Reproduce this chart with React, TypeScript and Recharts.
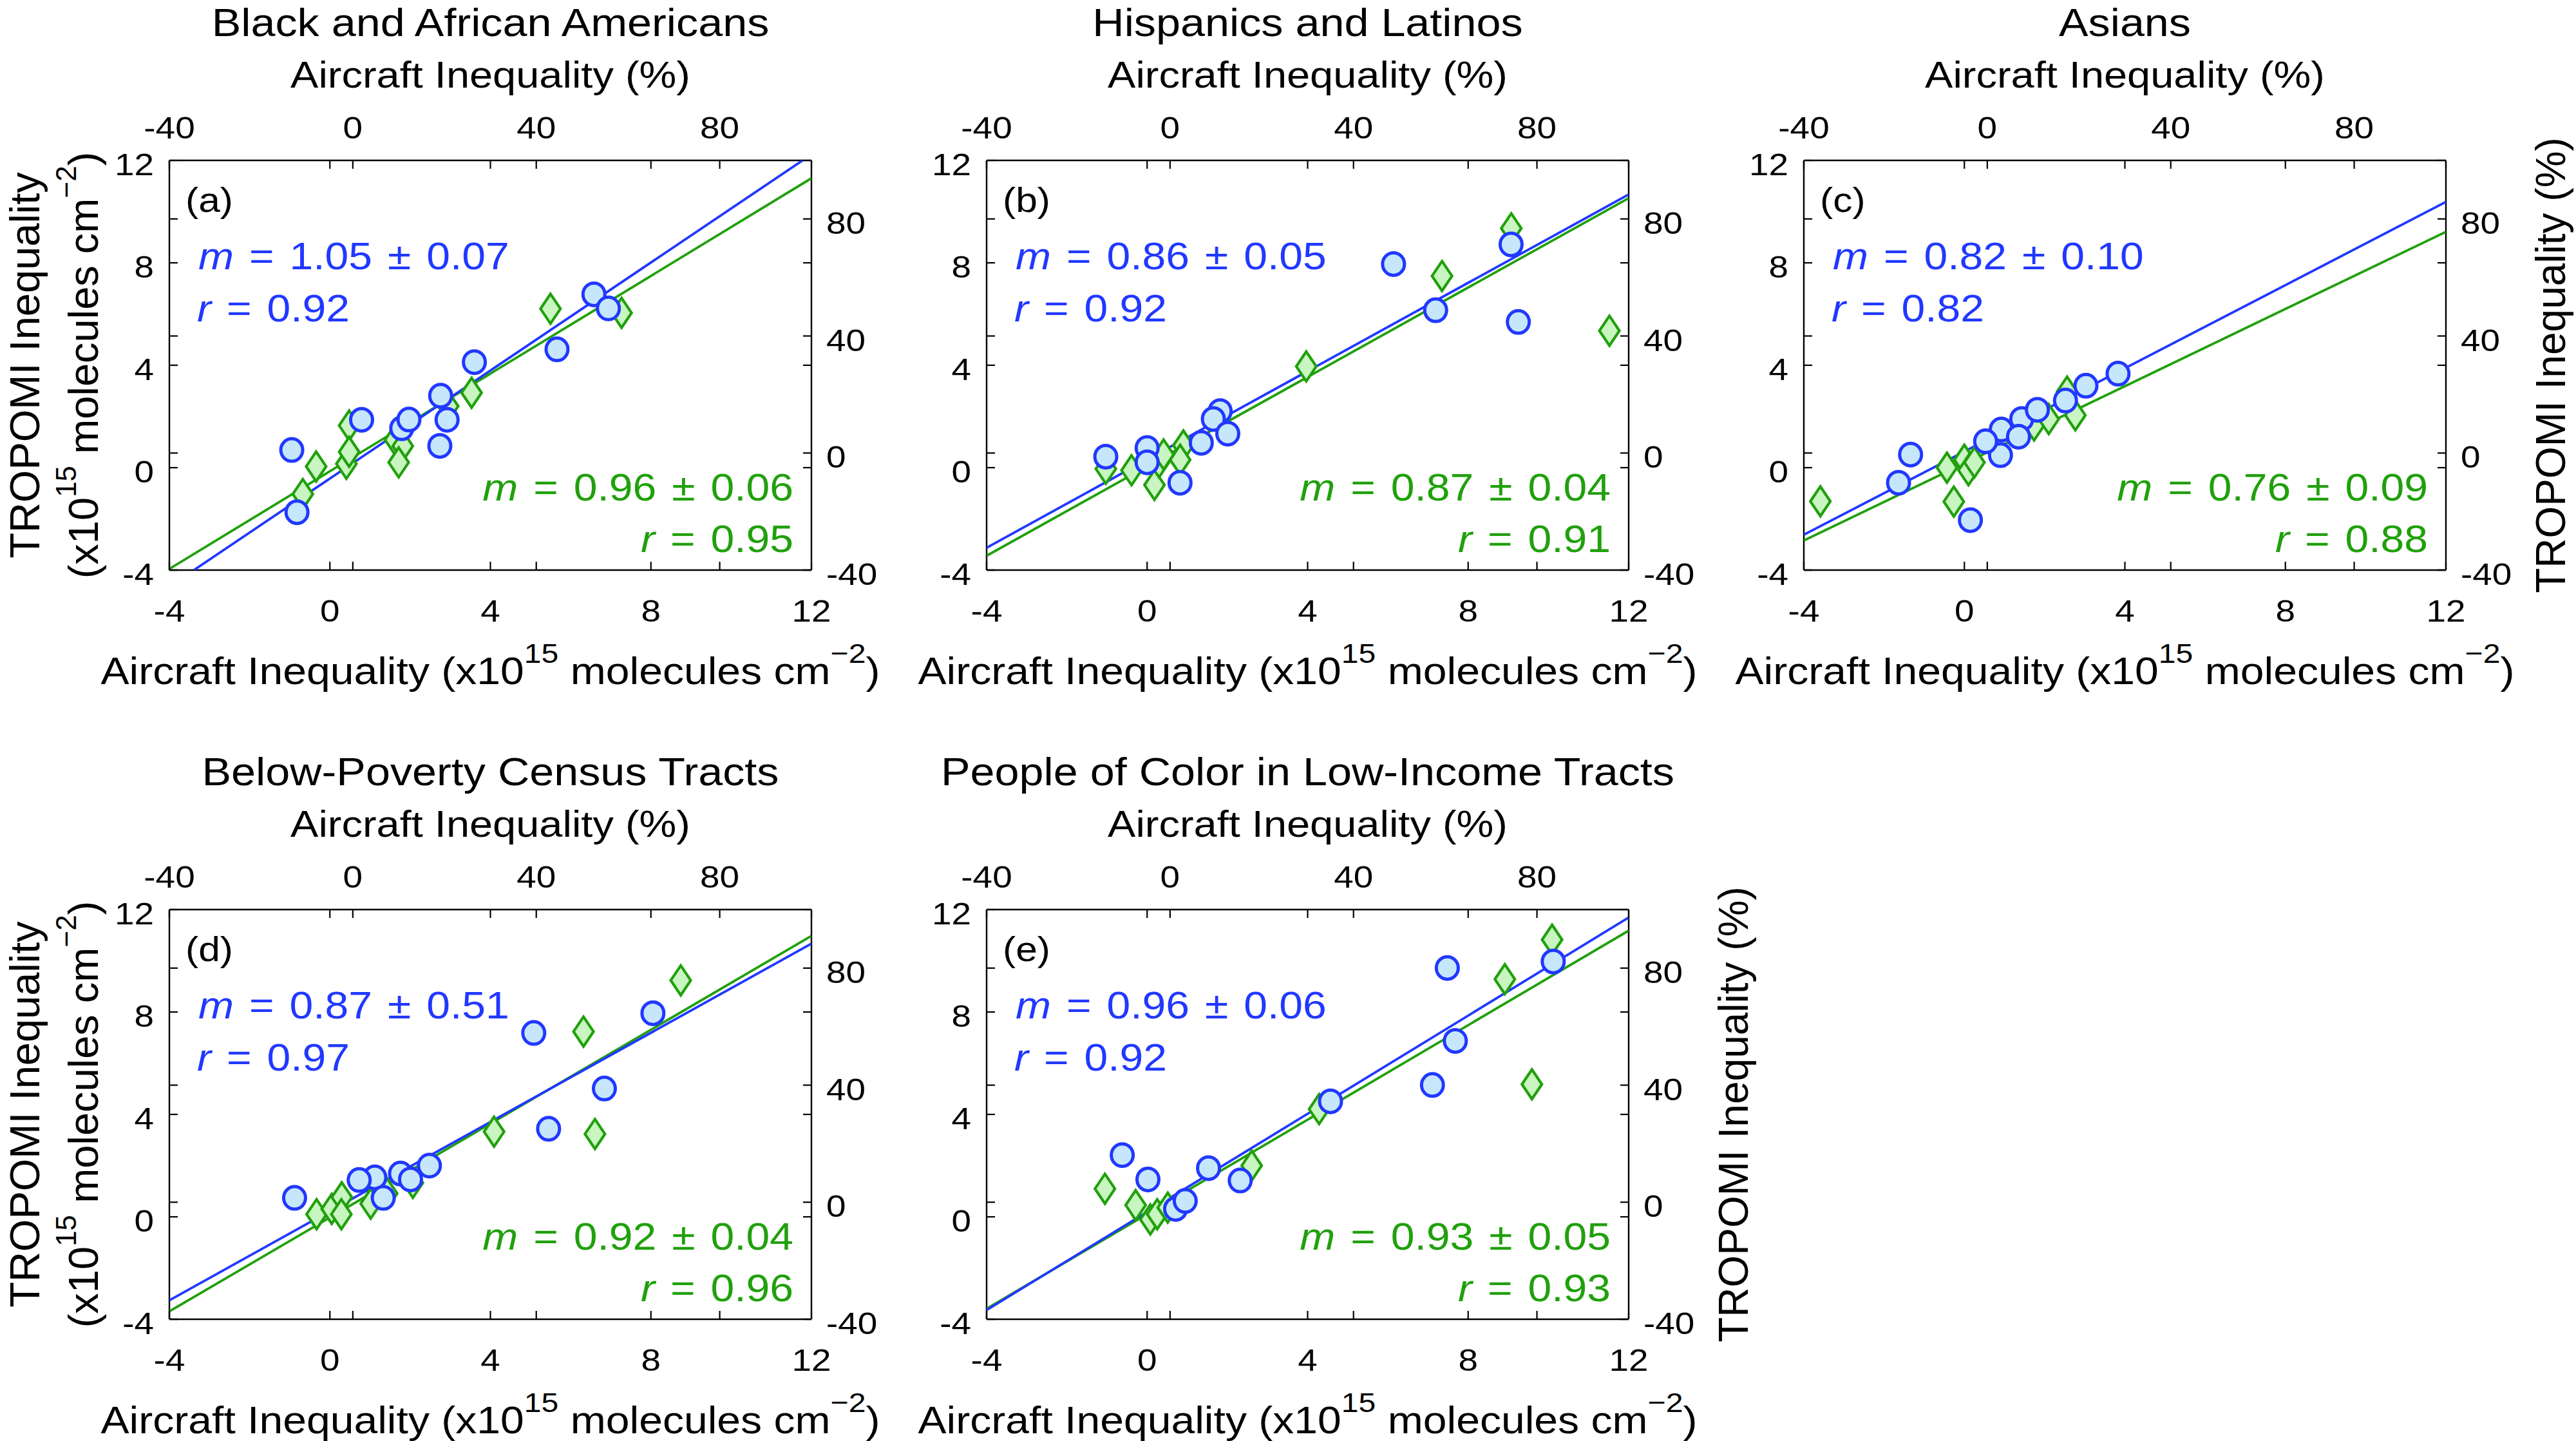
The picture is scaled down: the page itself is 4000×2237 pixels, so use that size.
import React from 'react';
import { ComposedChart, Scatter, XAxis, YAxis } from 'recharts';

// ---------------- data ----------------
const panelLetters = ['(a)', '(b)', '(c)', '(d)', '(e)'];
const panelTitles = [
  'Black and African Americans',
  'Hispanics and Latinos',
  'Asians',
  'Below-Poverty Census Tracts',
  'People of Color in Low-Income Tracts',
];

const absTicks = [-4, 0, 4, 8, 12];
const pctTicks = [-40, 0, 40, 80];
const absDomain: [number, number] = [-4, 12];
const pctDomain: [number, number] = [-40, 100];

const blueSlope = ['1.05 ± 0.07', '0.86 ± 0.05', '0.82 ± 0.10', '0.87 ± 0.51', '0.96 ± 0.06'];
const blueR = ['0.92', '0.92', '0.82', '0.97', '0.92'];
const greenSlope = ['0.96 ± 0.06', '0.87 ± 0.04', '0.76 ± 0.09', '0.92 ± 0.04', '0.93 ± 0.05'];
const greenR = ['0.95', '0.91', '0.88', '0.96', '0.93'];

// absolute inequality (x10^15 molecules cm^-2): circles
const circlesA = [
  { x: -0.95, y: 0.69 }, { x: -0.82, y: -1.74 }, { x: 0.79, y: 1.87 }, { x: 1.79, y: 1.54 },
  { x: 1.97, y: 1.88 }, { x: 2.76, y: 2.81 }, { x: 2.92, y: 1.87 }, { x: 2.74, y: 0.85 },
  { x: 3.6, y: 4.12 }, { x: 5.66, y: 4.62 }, { x: 6.58, y: 6.77 }, { x: 6.94, y: 6.22 },
];
const circlesB = [
  { x: -1.03, y: 0.43 }, { x: 0.0, y: 0.77 }, { x: 0.0, y: 0.21 }, { x: 0.82, y: -0.59 },
  { x: 1.35, y: 0.97 }, { x: 1.82, y: 2.21 }, { x: 1.65, y: 1.9 }, { x: 2.01, y: 1.33 },
  { x: 6.14, y: 7.95 }, { x: 7.19, y: 6.15 }, { x: 9.07, y: 8.72 }, { x: 9.25, y: 5.69 },
];
const circlesC = [
  { x: -1.64, y: -0.59 }, { x: -1.34, y: 0.51 }, { x: 0.15, y: -2.05 }, { x: 0.9, y: 0.49 },
  { x: 0.92, y: 1.49 }, { x: 1.43, y: 1.9 }, { x: 1.82, y: 2.26 }, { x: 1.35, y: 1.21 },
  { x: 0.53, y: 1.03 }, { x: 2.52, y: 2.62 }, { x: 3.03, y: 3.2 }, { x: 3.83, y: 3.67 },
];
const circlesD = [
  { x: -0.88, y: 0.74 }, { x: 1.12, y: 1.54 }, { x: 0.73, y: 1.44 }, { x: 1.33, y: 0.74 },
  { x: 1.76, y: 1.69 }, { x: 2.01, y: 1.46 }, { x: 2.48, y: 2.0 }, { x: 5.08, y: 7.18 },
  { x: 5.45, y: 3.44 }, { x: 6.84, y: 5.01 }, { x: 8.05, y: 7.95 },
];
const circlesE = [
  { x: -0.62, y: 2.41 }, { x: 0.02, y: 1.46 }, { x: 0.71, y: 0.31 }, { x: 0.95, y: 0.62 },
  { x: 1.53, y: 1.9 }, { x: 2.32, y: 1.42 }, { x: 4.57, y: 4.51 }, { x: 7.11, y: 5.15 },
  { x: 7.48, y: 9.72 }, { x: 7.68, y: 6.87 }, { x: 10.12, y: 9.97 },
];

// relative inequality (%): diamonds
const diamondsA = [
  { x: -10.9, y: -14.0 }, { x: -8.0, y: -4.6 }, { x: -1.4, y: -3.7 }, { x: -0.8, y: 9.4 },
  { x: -0.8, y: 0.4 }, { x: 9.2, y: 4.5 }, { x: 10.9, y: 2.4 }, { x: 10.0, y: -3.2 },
  { x: 25.9, y: 20.6 }, { x: 43.1, y: 49.3 }, { x: 58.6, y: 47.9 }, { x: 20.8, y: 16.0 },
];
const diamondsB = [
  { x: -14.0, y: -5.4 }, { x: -8.4, y: -5.9 }, { x: -3.4, y: -10.9 }, { x: -2.4, y: -3.2 },
  { x: 2.9, y: 2.6 }, { x: 2.2, y: -2.3 }, { x: -1.4, y: -0.5 }, { x: 29.7, y: 29.6 },
  { x: 59.3, y: 60.5 }, { x: 74.4, y: 76.8 }, { x: 95.8, y: 41.8 },
];
const diamondsC = [
  { x: -36.4, y: -16.5 }, { x: -8.8, y: -5.0 }, { x: -7.3, y: -16.6 }, { x: -5.0, y: -2.3 },
  { x: -4.1, y: -5.9 }, { x: -2.8, y: -3.2 }, { x: 10.2, y: 9.4 }, { x: 13.4, y: 11.6 },
  { x: 17.4, y: 21.0 }, { x: 19.2, y: 12.9 },
];
const diamondsD = [
  { x: -7.9, y: -4.1 }, { x: -4.6, y: -2.3 }, { x: -2.4, y: 1.7 }, { x: -2.5, y: -4.1 },
  { x: 3.9, y: -0.5 }, { x: 7.5, y: 3.0 }, { x: 13.1, y: 6.6 }, { x: 30.8, y: 24.1 },
  { x: 50.3, y: 58.3 }, { x: 52.8, y: 23.3 }, { x: 71.5, y: 75.8 },
];
const diamondsE = [
  { x: -14.2, y: 4.6 }, { x: -7.5, y: -1.0 }, { x: -4.3, y: -5.9 }, { x: -2.8, y: -4.1 },
  { x: -0.5, y: -1.85 }, { x: 17.8, y: 12.5 }, { x: 32.5, y: 31.8 }, { x: 73.0, y: 76.2 },
  { x: 78.9, y: 40.3 }, { x: 83.3, y: 89.7 },
];

// fitted lines, read where they meet the frame
const blueLineA = [{ x: -3.39, y: -4 }, { x: 11.78, y: 12 }];
const blueLineB = [{ x: -4, y: -3.13 }, { x: 12, y: 10.67 }];
const blueLineC = [{ x: -4, y: -2.62 }, { x: 12, y: 10.38 }];
const blueLineD = [{ x: -4, y: -3.26 }, { x: 12, y: 10.67 }];
const blueLineE = [{ x: -4, y: -3.64 }, { x: 12, y: 11.69 }];
const greenLineA = [{ x: -40, y: -39.6 }, { x: 100, y: 93.9 }];
const greenLineB = [{ x: -40, y: -35.1 }, { x: 100, y: 87.1 }];
const greenLineC = [{ x: -40, y: -29.9 }, { x: 100, y: 75.6 }];
const greenLineD = [{ x: -40, y: -37.3 }, { x: 100, y: 91.0 }];
const greenLineE = [{ x: -40, y: -36.4 }, { x: 100, y: 92.8 }];

const circles = [circlesA, circlesB, circlesC, circlesD, circlesE];
const diamonds = [diamondsA, diamondsB, diamondsC, diamondsD, diamondsE];
const blueLines = [blueLineA, blueLineB, blueLineC, blueLineD, blueLineE];
const greenLines = [greenLineA, greenLineB, greenLineC, greenLineD, greenLineE];

// ---------------- layout / style ----------------
const FONT = '"Liberation Sans", Arial, Helvetica, sans-serif';
const SX = 1.12;
const W = 997;
const H = 636;
const ML = 200;
const MR = 200;
const MT = 160;
const MB = 160;
const TL = 13;
const BLUE = '#2138ff';
const BLUE_FILL = '#c6e6fb';
const GREEN = '#20a00c';
const GREEN_FILL = '#c8f5c0';
const TICK_FS = 49;

const layout = [
  { L: 263, T: 249 },
  { L: 1532, T: 249 },
  { L: 2801, T: 249 },
  { L: 263, T: 1412 },
  { L: 1532, T: 1412 },
];
const showLeftLabel = [true, false, false, true, false];
const showRightLabel = [false, false, true, false, true];

const tickText = (x: number, y: number, anchor: string, v: any) => (
  <text
    transform={`translate(${x},${y}) scale(${SX},1)`}
    textAnchor={anchor as any}
    fontSize={TICK_FS}
    fontFamily={FONT}
    fill="#000"
  >
    {String(v)}
  </text>
);

const BottomTick = (p: any) => {
  const x = p.x;
  const yb = MT + H;
  return (
    <g>
      <line x1={x} y1={yb} x2={x} y2={yb - TL} stroke="#000" strokeWidth={2.2} />
      <line x1={x} y1={MT} x2={x} y2={MT + TL} stroke="#000" strokeWidth={2.2} />
      {tickText(x, yb + 80, 'middle', p.payload.value)}
    </g>
  );
};
const TopTick = (p: any) => {
  const x = p.x;
  const yb = MT + H;
  return (
    <g>
      <line x1={x} y1={MT} x2={x} y2={MT + TL} stroke="#000" strokeWidth={2.2} />
      <line x1={x} y1={yb} x2={x} y2={yb - TL} stroke="#000" strokeWidth={2.2} />
      {tickText(x, MT - 34, 'middle', p.payload.value)}
    </g>
  );
};
const LeftTick = (p: any) => {
  const y = p.y;
  return (
    <g>
      <line x1={ML} y1={y} x2={ML + TL} y2={y} stroke="#000" strokeWidth={2.2} />
      <line x1={ML + W} y1={y} x2={ML + W - TL} y2={y} stroke="#000" strokeWidth={2.2} />
      {tickText(ML - 24, y + 23, 'end', p.payload.value)}
    </g>
  );
};
const RightTick = (p: any) => {
  const y = p.y;
  return (
    <g>
      <line x1={ML + W} y1={y} x2={ML + W - TL} y2={y} stroke="#000" strokeWidth={2.2} />
      <line x1={ML} y1={y} x2={ML + TL} y2={y} stroke="#000" strokeWidth={2.2} />
      {tickText(ML + W + 23, y + 23, 'start', p.payload.value)}
    </g>
  );
};

const CircleShape = (p: any) => (
  <ellipse cx={p.cx} cy={p.cy} rx={17} ry={17.5} fill={BLUE_FILL} stroke={BLUE} strokeWidth={5} />
);
const DiamondShape = (p: any) => (
  <path
    d={`M${p.cx},${p.cy - 23} L${p.cx + 15.5},${p.cy} L${p.cx},${p.cy + 23} L${p.cx - 15.5},${p.cy} Z`}
    fill={GREEN_FILL}
    stroke={GREEN}
    strokeWidth={4.2}
  />
);
const NoShape = () => <g />;

const axisLine = { stroke: '#000', strokeWidth: 2.4 };

function Panel({ i }: { i: number }) {
  const { L, T } = layout[i];
  const cw = ML + W + MR;
  const ch = MT + H + MB;
  return (
    <div style={{ position: 'absolute', left: L - ML, top: T - MT, width: cw, height: ch }}>
      <ComposedChart width={cw} height={ch} margin={{ top: 0, right: 0, bottom: 0, left: 0 }}>
        <XAxis
          xAxisId="abs" dataKey="x" type="number" orientation="bottom" domain={absDomain}
          ticks={absTicks} interval={0} allowDataOverflow height={MB} axisLine={axisLine}
          tickLine={false} tickSize={0} tickMargin={0} tick={BottomTick}
        />
        <XAxis
          xAxisId="pct" dataKey="x" type="number" orientation="top" domain={pctDomain}
          ticks={pctTicks} interval={0} allowDataOverflow height={MT} axisLine={axisLine}
          tickLine={false} tickSize={0} tickMargin={0} tick={TopTick}
        />
        <YAxis
          yAxisId="abs" dataKey="y" type="number" orientation="left" domain={absDomain}
          ticks={absTicks} interval={0} allowDataOverflow width={ML} axisLine={axisLine}
          tickLine={false} tickSize={0} tickMargin={0} tick={LeftTick}
        />
        <YAxis
          yAxisId="pct" dataKey="y" type="number" orientation="right" domain={pctDomain}
          ticks={pctTicks} interval={0} allowDataOverflow width={MR} axisLine={axisLine}
          tickLine={false} tickSize={0} tickMargin={0} tick={RightTick}
        />
        <Scatter
          data={greenLines[i]} xAxisId="pct" yAxisId="pct" line={{ stroke: GREEN, strokeWidth: 3.8 }}
          shape={NoShape} isAnimationActive={false}
        />
        <Scatter
          data={blueLines[i]} xAxisId="abs" yAxisId="abs" line={{ stroke: BLUE, strokeWidth: 3.8 }}
          shape={NoShape} isAnimationActive={false}
        />
        <Scatter data={diamonds[i]} xAxisId="pct" yAxisId="pct" shape={DiamondShape} isAnimationActive={false} />
        <Scatter data={circles[i]} xAxisId="abs" yAxisId="abs" shape={CircleShape} isAnimationActive={false} />
      </ComposedChart>
    </div>
  );
}

function Txt({ x, y, size, anchor = 'middle', rot = 0, fill = '#000', ws, children }: any) {
  const tr = rot
    ? `translate(${x},${y}) rotate(${rot})`
    : `translate(${x},${y}) scale(${SX},1)`;
  return (
    <text
      transform={tr}
      fontSize={size}
      textAnchor={anchor}
      fill={fill}
      fontFamily={FONT}
      style={ws ? { wordSpacing: ws } : undefined}
    >
      {children}
    </text>
  );
}

function Overlay() {
  return (
    <svg
      width={4000}
      height={2237}
      style={{ position: 'absolute', left: 0, top: 0, pointerEvents: 'none' }}
    >
      {layout.map(({ L, T }, i) => {
        const cx = L + W / 2;
        const B = T + H;
        const R = L + W;
        return (
          <g key={i}>
            <Txt x={cx} y={T - 193} size={61}>{panelTitles[i]}</Txt>
            <Txt x={cx} y={T - 113} size={58}>Aircraft Inequality (%)</Txt>
            <Txt x={cx} y={B + 177} size={59}>
              Aircraft Inequality (x10
              <tspan fontSize={43} dy={-33}>15</tspan>
              <tspan dy={33}> molecules cm</tspan>
              <tspan fontSize={43} dy={-33}>−2</tspan>
              <tspan dy={33}>)</tspan>
            </Txt>
            <Txt x={L + 25} y={T + 80} size={54} anchor="start">{panelLetters[i]}</Txt>
            <Txt x={L + 45} y={T + 169} size={59} anchor="start" fill={BLUE} ws={5}>
              <tspan fontStyle="italic">m</tspan>{' = ' + blueSlope[i]}
            </Txt>
            <Txt x={L + 43} y={T + 250} size={59} anchor="start" fill={BLUE} ws={5}>
              <tspan fontStyle="italic">r</tspan>{' = ' + blueR[i]}
            </Txt>
            <Txt x={L + 969} y={T + 528} size={59} anchor="end" fill={GREEN} ws={5}>
              <tspan fontStyle="italic">m</tspan>{' = ' + greenSlope[i]}
            </Txt>
            <Txt x={L + 969} y={T + 608} size={59} anchor="end" fill={GREEN} ws={5}>
              <tspan fontStyle="italic">r</tspan>{' = ' + greenR[i]}
            </Txt>
            {showLeftLabel[i] && (
              <>
                <Txt x={61} y={T + H / 2} size={65} rot={-90}>TROPOMI Inequality</Txt>
                <Txt x={152} y={T + H / 2} size={65} rot={-90}>
                  (x10
                  <tspan fontSize={44} dy={-34}>15</tspan>
                  <tspan dy={34}> molecules cm</tspan>
                  <tspan fontSize={44} dy={-34}>−2</tspan>
                  <tspan dy={34}>)</tspan>
                </Txt>
              </>
            )}
            {showRightLabel[i] && (
              <Txt x={R + 185} y={T + H / 2} size={64} rot={-90}>TROPOMI Inequality (%)</Txt>
            )}
          </g>
        );
      })}
    </svg>
  );
}

export default function App() {
  return (
    <div
      style={{
        position: 'absolute', left: 0, top: 0, width: 4000, height: 2237,
        background: '#fff', overflow: 'hidden',
      }}
    >
      {layout.map((_, i) => (
        <Panel key={i} i={i} />
      ))}
      <Overlay />
    </div>
  );
}
